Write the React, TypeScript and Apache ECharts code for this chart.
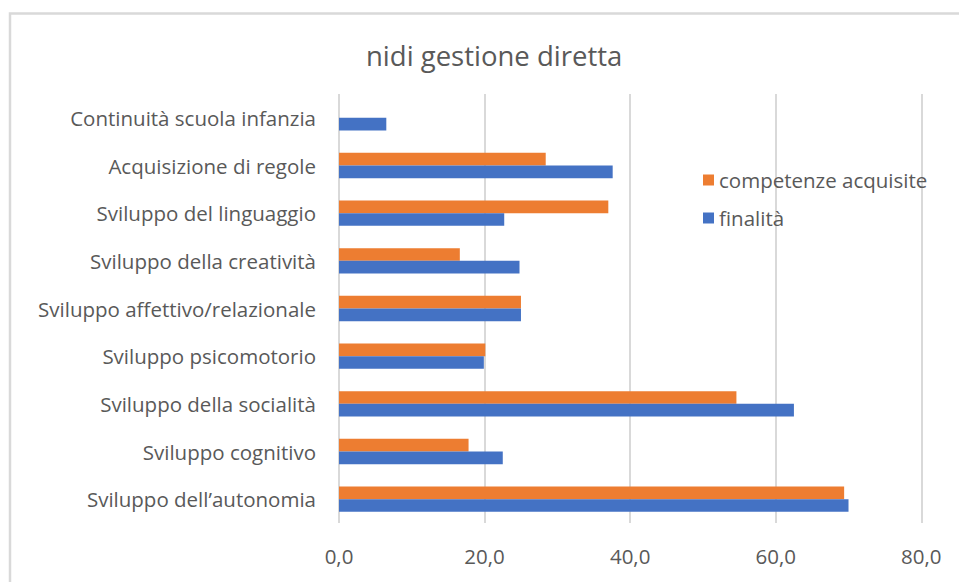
import React, { useEffect, useRef } from "react";
import * as echarts from "echarts";

const categories = [
  "Sviluppo dell’autonomia",
  "Sviluppo cognitivo",
  "Sviluppo della socialità",
  "Sviluppo psicomotorio",
  "Sviluppo affettivo/relazionale",
  "Sviluppo della creatività",
  "Sviluppo del linguaggio",
  "Acquisizione di regole",
  "Continuità scuola infanzia",
];
const finalita = [70.0, 22.5, 62.5, 19.9, 25.0, 24.8, 22.7, 37.6, 6.5];
const competenze = [69.4, 17.8, 54.6, 20.1, 25.0, 16.6, 37.0, 28.4, null];
const seriesNames = ["competenze acquisite", "finalità"];
const titleText = "nidi gestione diretta";

const FONT = "'Open Sans', sans-serif";
const TXT = "#595959";

export default function App() {
  const ref = useRef<HTMLDivElement>(null);
  useEffect(() => {
    if (!ref.current) return;
    const chart = echarts.init(ref.current, null, { renderer: "svg" });
    chart.setOption({
      animation: false,
      backgroundColor: "#ffffff",
      graphic: [
        {
          type: "rect",
          shape: { x: 10, y: 13.5, width: 1100, height: 800 },
          style: { fill: "none", stroke: "#d9d9d9", lineWidth: 2.5 },
          silent: true,
        },
      ],
      title: {
        text: titleText,
        left: 361,
        top: 36,
        textStyle: { fontFamily: FONT, fontSize: 27.5, fontWeight: "normal", color: TXT },
      },
      legend: {
        data: seriesNames,
        orient: "vertical",
        left: 698,
        top: 163,
        itemWidth: 11,
        itemHeight: 11,
        itemGap: 14,
        icon: "rect",
        textStyle: { fontFamily: FONT, fontSize: 20.5, color: TXT, lineHeight: 24 },
      },
      grid: { left: 339, right: 37.7, top: 94, bottom: 59, containLabel: false },
      xAxis: {
        type: "value",
        min: 0,
        max: 80,
        interval: 20,
        axisLine: { show: false },
        axisTick: { show: false },
        splitLine: { show: true, lineStyle: { color: "#d9d9d9", width: 2 } },
        axisLabel: {
          margin: 22,
          fontFamily: FONT,
          fontSize: 20.5,
          color: TXT,
          formatter: (v: number) => v.toFixed(1).replace(".", ","),
        },
      },
      yAxis: {
        type: "category",
        data: categories,
        axisLine: { show: false },
        axisTick: { show: false },
        axisLabel: { margin: 23, fontFamily: FONT, fontSize: 20.5, color: TXT },
      },
      series: [
        {
          name: seriesNames[0],
          type: "bar",
          data: competenze,
          itemStyle: { color: "#ED7D31" },
          barGap: "0%",
          barCategoryGap: "47%",
        },
        {
          name: seriesNames[1],
          type: "bar",
          data: finalita,
          itemStyle: { color: "#4472C4" },
          barGap: "0%",
          barCategoryGap: "47%",
        },
      ],
    });
    return () => chart.dispose();
  }, []);
  return (
    <div
      ref={ref}
      style={{ position: "fixed", left: 0, top: 0, width: 959, height: 582 }}
    />
  );
}
